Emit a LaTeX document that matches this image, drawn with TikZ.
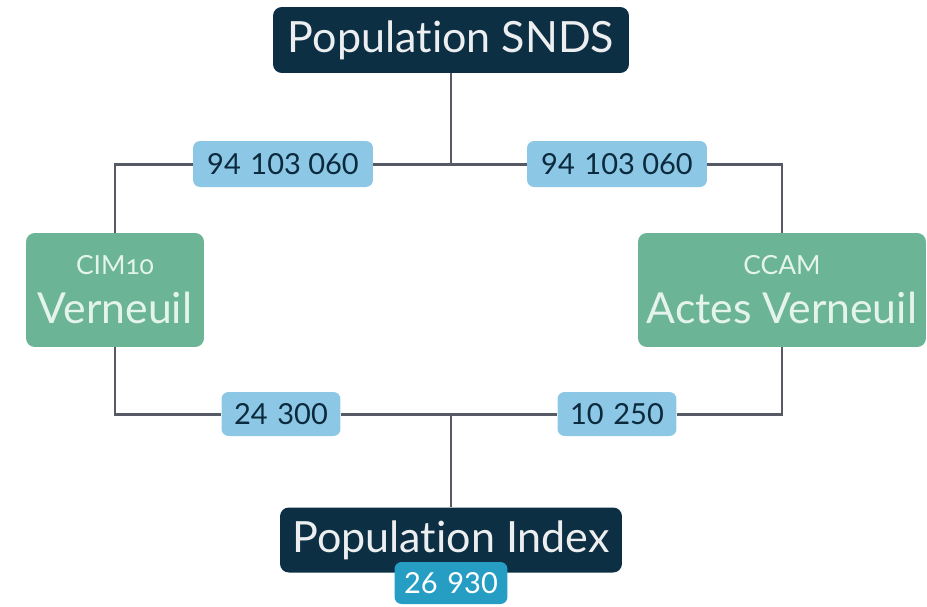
\documentclass[tikz,border=0pt]{standalone}
\usepackage{fontspec}
\setmainfont{Lato}[Ligatures=NoCommon]
\newfontfamily\oldnum{Lato}[Numbers=OldStyle,Ligatures=NoCommon]
\usetikzlibrary{backgrounds}
\definecolor{navy}{RGB}{13,47,68}
\definecolor{sage}{RGB}{108,180,150}
\definecolor{pill}{RGB}{140,200,230}
\definecolor{teal}{RGB}{38,158,196}
\definecolor{wire}{RGB}{85,90,100}
\definecolor{pale}{RGB}{228,244,236}
\begin{document}
\begin{tikzpicture}[x=0.02cm,y=-0.02cm,
  darkbox/.style={fill=navy,rounded corners=5pt,text=white!92!navy,font=\fontsize{24.5}{26}\selectfont,inner sep=0pt},
  greenbox/.style={fill=sage,rounded corners=5pt,text=pale,align=center,inner sep=0pt,font=\fontsize{24.3}{26}\selectfont},
  smalltag/.style={font=\fontsize{15}{17}\selectfont},
  pillbox/.style={fill=pill,rounded corners=4pt,text=navy!90!black,font=\fontsize{16.5}{18}\selectfont,inner sep=0pt},
  tealbox/.style={fill=teal,rounded corners=4pt,text=white,font=\fontsize{16.5}{18}\selectfont,inner sep=0pt},
  wireline/.style={draw=wire,line width=1.7pt}]
\useasboundingbox (0,0) rectangle (927,606);
\node[darkbox,minimum width=7.12cm,minimum height=1.32cm] (top) at (451,40) {Population SNDS};
\node[greenbox,minimum width=3.56cm,minimum height=2.28cm] (cim) at (115,290)
  {{\oldnum\fontsize{15}{17}\selectfont CIM10}\\[2pt]Verneuil};
\node[greenbox,minimum width=5.76cm,minimum height=2.28cm] (ccam) at (782,290)
  {{\fontsize{15}{17}\selectfont CCAM}\\[2pt]Actes Verneuil};
\node[darkbox,minimum width=6.84cm,minimum height=1.3cm] (bot) at (451,540) {Population Index};
\node[pillbox,minimum width=3.6cm,minimum height=0.92cm] (p1) at (283,164) {94\,\,103 060};
\node[pillbox,minimum width=3.6cm,minimum height=0.92cm] (p2) at (617,164) {94\,\,103 060};
\node[pillbox,minimum width=2.38cm,minimum height=0.88cm] (p3) at (281,414) {24\,\,300};
\node[pillbox,minimum width=2.38cm,minimum height=0.88cm] (p4) at (617,414) {10\,\,250};
\node[tealbox,minimum width=2.26cm,minimum height=0.84cm] (idx) at (451,583) {26\,\,930};
\coordinate (jt) at (451,164);
\coordinate (jb) at (451,414);
\begin{scope}[on background layer]
\draw[wireline] (top) -- (jt);
\draw[wireline] (p1) -- (jt) -- (p2);
\draw[wireline] (p1) -| (cim);
\draw[wireline] (p2) -| (ccam);
\draw[wireline] (cim) |- (p3);
\draw[wireline] (ccam) |- (p4);
\draw[wireline] (p3) -- (jb) -- (p4);
\draw[wireline] (jb) -- (bot);
\end{scope}
\end{tikzpicture}
\end{document}
